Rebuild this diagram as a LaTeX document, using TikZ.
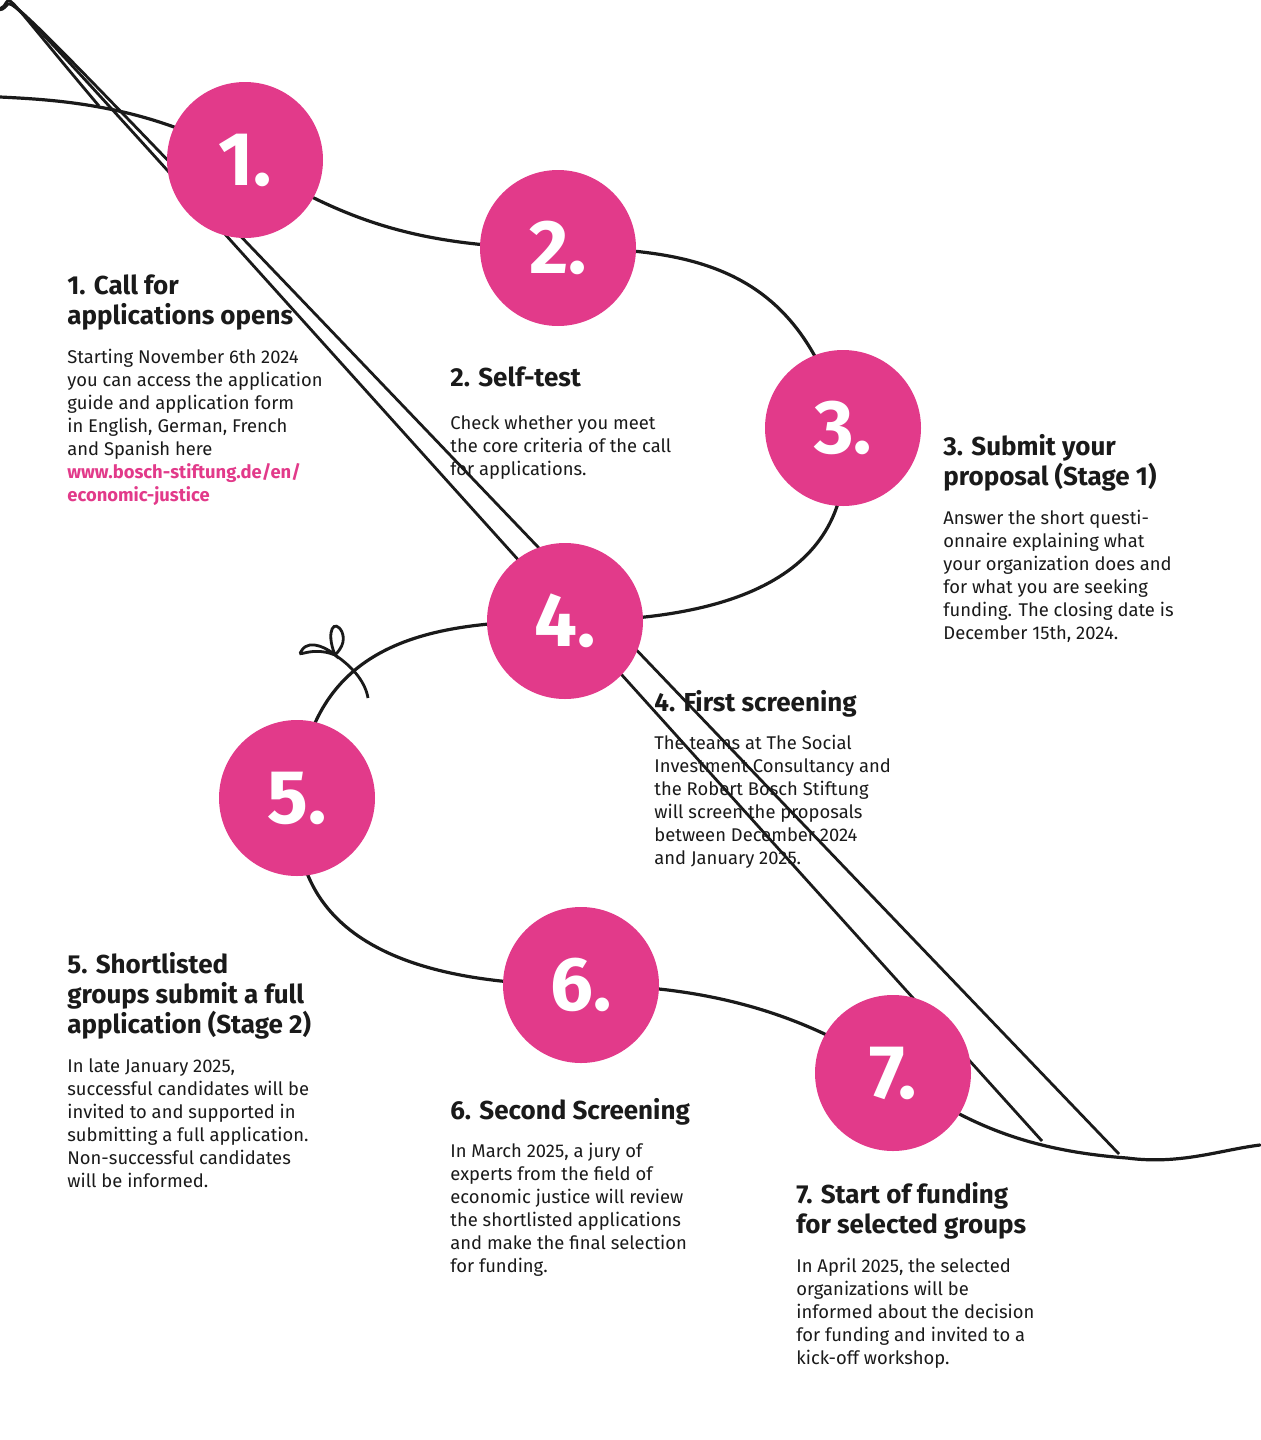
\documentclass[tikz,border=0pt]{standalone}
\usepackage{fontspec}
\setmainfont{Fira Sans}
\definecolor{pinkc}{HTML}{E23A8A}
\definecolor{ink}{HTML}{1A1A1A}
\tikzset{
 stepcirc/.style={circle,fill=pinkc,minimum size=78pt,inner sep=0pt,text=white,font=\fontsize{38}{38}\selectfont\bfseries},
 head/.style={anchor=north west,inner sep=0pt,align=left,text=ink,font=\fontsize{13}{15}\selectfont\bfseries},
 body/.style={anchor=north west,inner sep=0pt,align=left,text=ink,font=\fontsize{9.2}{11.5}\selectfont},
 road/.style={draw=ink,line width=1.6pt,line cap=round},
 knot/.style={draw=ink,line width=1.4pt}
}
\begin{document}
\begin{tikzpicture}[x=0.5pt,y=-0.5pt]
\useasboundingbox (0,0) rectangle (1260,1440);
\coordinate (s) at (0,97);
\coordinate (k1) at (105,110);
\coordinate (k5) at (335,655);
\coordinate (k7a) at (1050,1145);
\coordinate (k7b) at (1127,1158);
\coordinate (e) at (1260,1145);
\draw[road] (s) .. controls (60,100) and (150,105) .. (245,160)
  .. controls (330,210) and (400,248) .. (558,248)
  .. controls (700,248) and (800,270) .. (843,428)
  .. controls (860,560) and (760,621) .. (565,621)
  .. controls (430,621) and (310,640) .. (297,798)
  .. controls (290,900) and (350,985) .. (581,985)
  .. controls (700,985) and (800,1010) .. (893,1073)
  .. controls (960,1120) and (1020,1150) .. (k7b)
  .. controls (1180,1165) and (1220,1150) .. (e);
% knots
\draw[knot] (k1) ++(-6,-4) .. controls (-2,-14) and (12,-4) .. (4,6) .. controls (-4,14) and (-12,2) .. (-2,-2);
\draw[knot] (k7a) ++(-8,-4) .. controls (-2,-16) and (14,-6) .. (6,6) .. controls (-2,16) and (-14,4) .. (-4,-4);
\draw[knot] (k7b) ++(-8,-4) .. controls (-2,-16) and (14,-6) .. (6,6) .. controls (-2,16) and (-14,4) .. (-4,-4);
% bow
\draw[knot] (k5) .. controls (310,645) and (295,660) .. (302,650) .. controls (310,638) and (330,650) .. (k5)
  .. controls (325,630) and (335,618) .. (342,632) .. controls (346,642) and (340,650) .. (k5);
\draw[knot] (k5) .. controls (350,665) and (365,680) .. (368,698);
\node[stepcirc] (c1) at (245,160) {1.};
\node[stepcirc] (c2) at (558,248) {2.};
\node[stepcirc] (c3) at (843,428) {3.};
\node[stepcirc] (c4) at (565,621) {4.};
\node[stepcirc] (c5) at (297,798) {5.};
\node[stepcirc] (c6) at (581,985) {6.};
\node[stepcirc] (c7) at (893,1073) {7.};
\node[head] (h1) at (67,274) {1. Call for\\applications opens};
\node[body] (b1) at (67,349) {Starting November 6th 2024\\you can access the application\\guide and application form\\in English, German, French\\and Spanish here\\{\color{pinkc}\bfseries www.bosch-stiftung.de/en/}\\{\color{pinkc}\bfseries economic-justice}};
\node[head] (h2) at (450,366) {2. Self-test};
\node[body] (b2) at (450,415) {Check whether you meet\\the core criteria of the call\\for applications.};
\node[head] (h3) at (943,434) {3. Submit your\\proposal (Stage 1)};
\node[body] (b3) at (943,510) {Answer the short questi-\\onnaire explaining what\\your organization does and\\for what you are seeking\\funding. The closing date is\\December 15th, 2024.};
\node[head] (h4) at (654,690) {4. First screening};
\node[body] (b4) at (654,735) {The teams at The Social\\Investment Consultancy and\\the Robert Bosch Stiftung\\will screen the proposals\\between December 2024\\and January 2025.};
\node[head] (h5) at (67,952) {5. Shortlisted\\groups submit a full\\application (Stage 2)};
\node[body] (b5) at (67,1058) {In late January 2025,\\successful candidates will be\\invited to and supported in\\submitting a full application.\\Non-successful candidates\\will be informed.};
\node[head] (h6) at (450,1098) {6. Second Screening};
\node[body] (b6) at (450,1143) {In March 2025, a jury of\\experts from the field of\\economic justice will review\\the shortlisted applications\\and make the final selection\\for funding.};
\node[head] (h7) at (796,1182) {7. Start of funding\\for selected groups};
\node[body] (b7) at (796,1258) {In April 2025, the selected\\organizations will be\\informed about the decision\\for funding and invited to a\\kick-off workshop.};
\end{tikzpicture}
\end{document}
